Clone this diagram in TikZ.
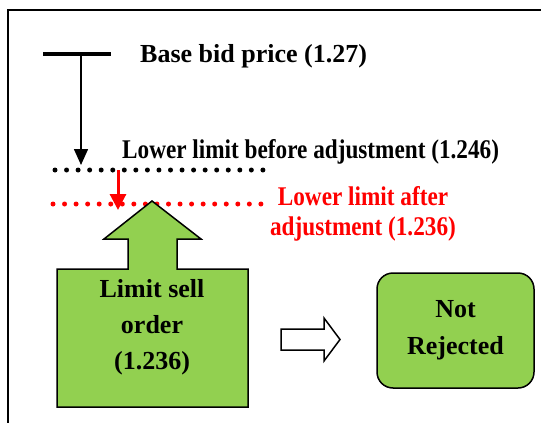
\documentclass[tikz,border=0pt]{standalone}
\usepackage{fontspec}
\setmainfont{Liberation Serif}
\newfontfamily\narrowfont[FakeStretch=0.86]{Liberation Serif}
\usetikzlibrary{arrows.meta,positioning}
\definecolor{lgreen}{HTML}{92D050}
\begin{document}
\begin{tikzpicture}[x=1pt,y=-1pt,line join=miter,
	txt/.style={font=\fontsize{26}{36}\selectfont\bfseries,inner sep=0pt},
	narrowtxt/.style={font=\fontsize{27}{30}\selectfont\narrowfont\bfseries,inner sep=0pt},
	dotrow/.style={line width=5pt,line cap=round,dash pattern=on 0pt off 11.55pt},
	greenfill/.style={draw=black,line width=1.5pt,fill=lgreen}]
	\useasboundingbox (0,0) rectangle (541,423);
	\draw[line width=1.5pt] (8,423)--(8,10)--(541,10); % frame
	% base price and the two limits
	\coordinate (base) at (81,54);
	\coordinate (before) at (81,165);
	\coordinate (redfrom) at (118,170);
	\coordinate (after) at (118,210);
	\draw[line width=4pt] (43,54)--(111,54);
	\node[txt,anchor=base west] (basetxt) at (140,62) {Base bid price (1.27)};
	\draw[line width=1.5pt,-{Triangle[width=14pt,length=16pt]}] (base)--(before);
	\draw[dotrow] (55,170)--(265,170);
	\node[narrowtxt,anchor=base west] (beforetxt) at (122,158) {Lower limit before adjustment (1.246)};
	\draw[red,line width=3pt,-{Triangle[width=16pt,length=16pt]}] (redfrom)--(after);
	\draw[dotrow,red] (53,204)--(262,204);
	\node[narrowtxt,text=red,align=center,anchor=base] (aftertxt) at (363,235) {Lower limit after\\adjustment (1.236)};
	% the order and the result
	\draw[greenfill] (57,407)--(57,269)--(128,269)--(128,239)--(104,239)--(152,201)--(201,239)--(177,239)--(177,269)--(248,269)--(248,407)--cycle;
	\node[txt,align=center,anchor=base] (ordertxt) at (152,369) {Limit sell\\order\\(1.236)};
	\draw[line width=1.5pt,fill=white] (281,329)--(324,329)--(324,318)--(340,339.5)--(324,361)--(324,350)--(281,350)--cycle;
	\node[greenfill,txt,font=\fontsize{26}{37}\selectfont\bfseries,rounded corners=16pt,minimum width=157pt,minimum height=115pt,align=center] (notrej) at (455.5,330.5) {Not\\Rejected};
\end{tikzpicture}
\end{document}
